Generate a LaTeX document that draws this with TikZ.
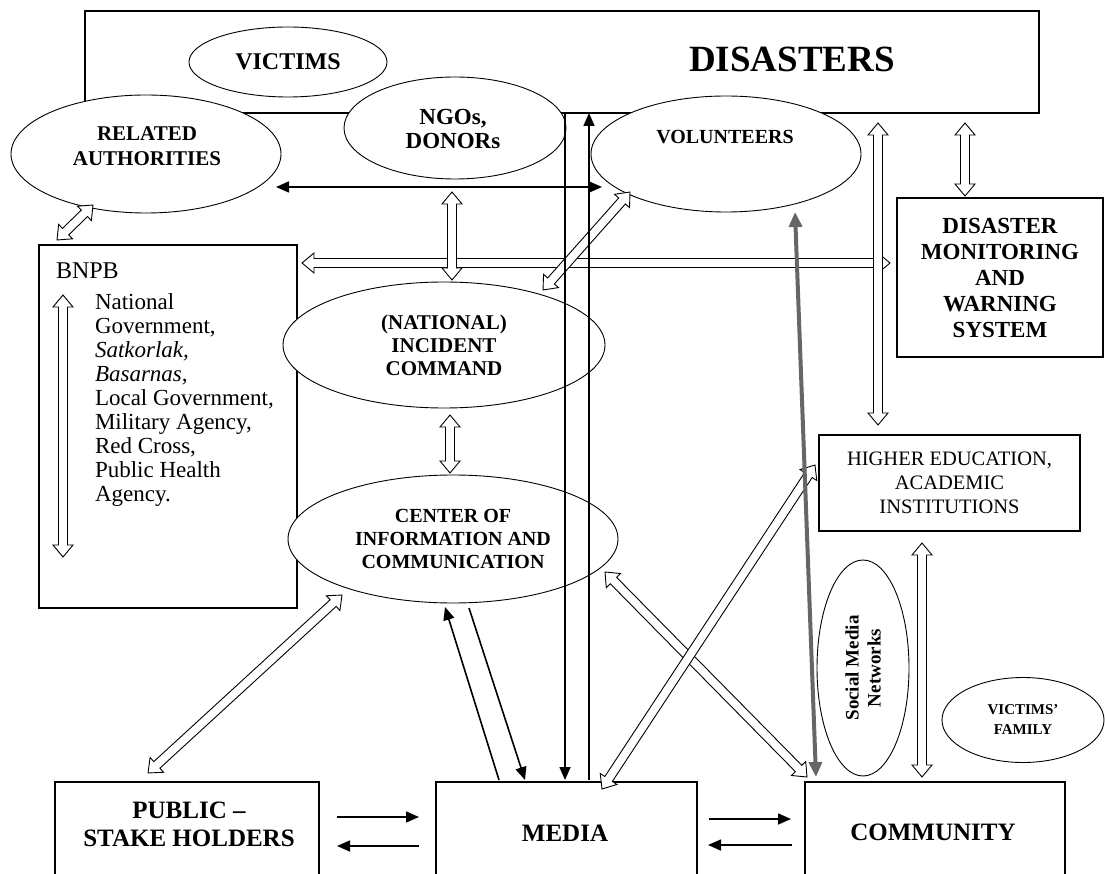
\documentclass[tikz,border=0pt]{standalone}
\usepackage{fontspec}
\setmainfont{Liberation Serif}
\usetikzlibrary{arrows.meta,shapes.geometric,calc}

\newcommand\setfs[2]{\fontsize{#1}{#2}\selectfont}

\tikzset{
  every node/.style={inner sep=0pt, outer sep=0pt},
  oval/.style={draw, fill=white, ellipse, line width=0.9pt},
  frame/.style={draw, line width=1.2pt},
  lbl/.style args={#1/#2}{font=\bfseries\setfs{#1}{#2}, align=center},
  solidarrow/.style={line width=1.6pt, -{Triangle[length=13pt,width=11pt]}},
  graylink/.style={draw=black!60, line width=4pt,
    {Triangle[length=15pt,width=13pt]}-{Triangle[length=15pt,width=13pt]}},
  hollowline/.style={draw=black, fill=white, line width=0.9pt, line join=miter},
}

% Two-headed open (outlined) arrow between two named coordinates
\newcommand\hollowarrow[3][]{%
  \pgfpointdiff{\pgfpointanchor{#2}{center}}{\pgfpointanchor{#3}{center}}%
  \pgfgetlastxy{\hax}{\hay}%
  \pgfmathsetmacro\hang{atan2(\hay,\hax)}%
  \pgfmathsetmacro\hlen{veclen(\hax,\hay)}%
  \begin{scope}[shift={(#2)}, rotate=\hang]
    \path[hollowline,#1] (0,0) -- (12,10) -- (12,4.5) -- ({\hlen-12},4.5)
      -- ({\hlen-12},10) -- (\hlen,0) -- ({\hlen-12},-10) -- ({\hlen-12},-4.5)
      -- (12,-4.5) -- (12,-10) -- cycle;
  \end{scope}}

\begin{document}
\begin{tikzpicture}[x=1pt,y=-1pt]
\useasboundingbox (0,0) rectangle (1105,874);

% ---- boxes ----
\node[frame, line width=2pt, minimum width=954pt, minimum height=102pt] (dis) at (562,62) {};
\node[lbl=37/40] (distxt) at (792,59) {DISASTERS};

\node[frame, minimum width=258pt, minimum height=363pt] (bnpb) at (168,426.5) {};
\node[font=\setfs{24}{26}, anchor=west] (bnpbtxt) at (56,271) {BNPB};
\node[font=\setfs{23}{24}, align=left, anchor=north west] (bnpblist) at (95,294)
  {National\\Government,\\\textit{Satkorlak,}\\\textit{Basarnas,}\\Local Government,\\Military Agency,\\Red Cross,\\Public Health\\Agency.};

\node[frame, minimum width=206pt, minimum height=159pt, lbl=23/26] (dmw) at (1000,277.5)
  {DISASTER\\MONITORING\\AND\\WARNING\\SYSTEM};
\node[frame, minimum width=261pt, minimum height=96pt, align=center, font=\setfs{20.5}{24}] (hed) at (949.5,483)
  {HIGHER EDUCATION,\\ACADEMIC\\INSTITUTIONS};

\node[frame, minimum width=264pt, minimum height=118pt] (pub) at (187,841) {};
\node[lbl=25/28] (pubtxt) at (189,824) {PUBLIC –\\STAKE HOLDERS};
\node[frame, minimum width=261pt, minimum height=118pt] (med) at (566.5,841) {};
\node[lbl=25/30] (medtxt) at (565,833) {MEDIA};
\node[frame, minimum width=260pt, minimum height=118pt] (com) at (935,841) {};
\node[lbl=25/30] (comtxt) at (933,832) {COMMUNITY};

% ---- ovals ----
\node[oval, minimum width=198pt, minimum height=70pt, lbl=24/27] (vic) at (288,62) {VICTIMS};
\node[oval, minimum width=222pt, minimum height=102pt, lbl=23/24] (ngo) at (455,128) {};
\node[lbl=23/24] (ngotxt) at (453,129) {NGOs,\\DONORs};
\node[oval, minimum width=270pt, minimum height=118pt] (ra) at (146,154) {};
\node[lbl=21/25] (ratxt) at (147,146) {RELATED\\AUTHORITIES};
\node[oval, minimum width=270pt, minimum height=116pt] (vol) at (726,154) {};
\node[lbl=20/23] (voltxt) at (725,137) {VOLUNTEERS};
\node[oval, minimum width=322pt, minimum height=126pt, lbl=21/23] (inc) at (444,345)
  {(NATIONAL)\\INCIDENT\\COMMAND};
\node[oval, minimum width=330pt, minimum height=128pt, lbl=20/23] (cic) at (453,539)
  {CENTER OF\\INFORMATION AND\\COMMUNICATION};
\node[oval, rotate=90, minimum width=216pt, minimum height=92pt, lbl=19/22] (smn) at (863,668)
  {Social Media\\Networks};
\node[oval, minimum width=162pt, minimum height=85pt, lbl=15/20] (vf) at (1023,720)
  {VICTIMS’\\FAMILY};

% ---- connector end points ----
\coordinate (ra-b)    at (93,205);   \coordinate (bnpb-t)  at (57,240);
\coordinate (ngo-b)   at (452,192);  \coordinate (inc-t)   at (452,280);
\coordinate (vol-bl)  at (630,192);  \coordinate (inc-tr)  at (543,290);
\coordinate (bnpb-r)  at (302,263);  \coordinate (dmw-l)   at (890,263);
\coordinate (dis-b1)  at (878,123);  \coordinate (hed-t)   at (878,425);
\coordinate (dis-b2)  at (965,123);  \coordinate (dmw-t)   at (965,196);
\coordinate (inc-b)   at (450,415);  \coordinate (cic-t)   at (450,473);
\coordinate (bnpb-a1) at (63,295);   \coordinate (bnpb-a2) at (63,557);
\coordinate (pub-t)   at (148,773);  \coordinate (cic-bl)  at (342,595);
\coordinate (med-tr)  at (602,789);  \coordinate (hed-l)   at (815,465);
\coordinate (cic-r)   at (605,572);  \coordinate (com-tl)  at (807,777);
\coordinate (hed-b)   at (922,543);  \coordinate (com-t)   at (922,777);

\coordinate (ra-r)   at (276,187);  \coordinate (vol-l)  at (602,187);
\coordinate (dis-m1) at (565,113);  \coordinate (med-m1) at (565,780);
\coordinate (dis-m2) at (589,113);  \coordinate (med-m2) at (589,780);
\coordinate (cic-b1) at (469,608);  \coordinate (med-t1) at (525,780);
\coordinate (med-t2) at (499,780);  \coordinate (cic-b2) at (445,607);
\coordinate (pub-r1) at (337,817);  \coordinate (med-l1) at (419,817);
\coordinate (med-l2) at (419,846);  \coordinate (pub-r2) at (337,846);
\coordinate (med-r1) at (709,819);  \coordinate (com-l1) at (791,819);
\coordinate (com-l2) at (792,845);  \coordinate (med-r2) at (708,845);
\coordinate (com-tg) at (816,777);  \coordinate (vol-bg) at (795,212);

% ---- open double arrows ----
\hollowarrow{ra-b}{bnpb-t}
\hollowarrow{bnpb-r}{dmw-l}
\hollowarrow{dis-b1}{hed-t}
\hollowarrow{ngo-b}{inc-t}
\hollowarrow{vol-bl}{inc-tr}
\hollowarrow{dis-b2}{dmw-t}
\hollowarrow{inc-b}{cic-t}
\hollowarrow{bnpb-a1}{bnpb-a2}
\hollowarrow{pub-t}{cic-bl}
\hollowarrow{cic-r}{com-tl}
\hollowarrow{med-tr}{hed-l}
\hollowarrow{hed-b}{com-t}

% ---- solid arrows ----
\draw[line width=1.6pt, {Triangle[length=13pt,width=11pt]}-{Triangle[length=13pt,width=11pt]}] (ra-r) -- (vol-l);
\draw[solidarrow] (dis-m1) -- (med-m1);
\draw[solidarrow] (med-m2) -- (dis-m2);
\draw[solidarrow] (cic-b1) -- (med-t1);
\draw[solidarrow] (med-t2) -- (cic-b2);
\draw[solidarrow] (pub-r1) -- (med-l1);
\draw[solidarrow] (med-l2) -- (pub-r2);
\draw[solidarrow] (med-r1) -- (com-l1);
\draw[solidarrow] (com-l2) -- (med-r2);
\draw[graylink] (com-tg) -- (vol-bg);

\end{tikzpicture}
\end{document}
